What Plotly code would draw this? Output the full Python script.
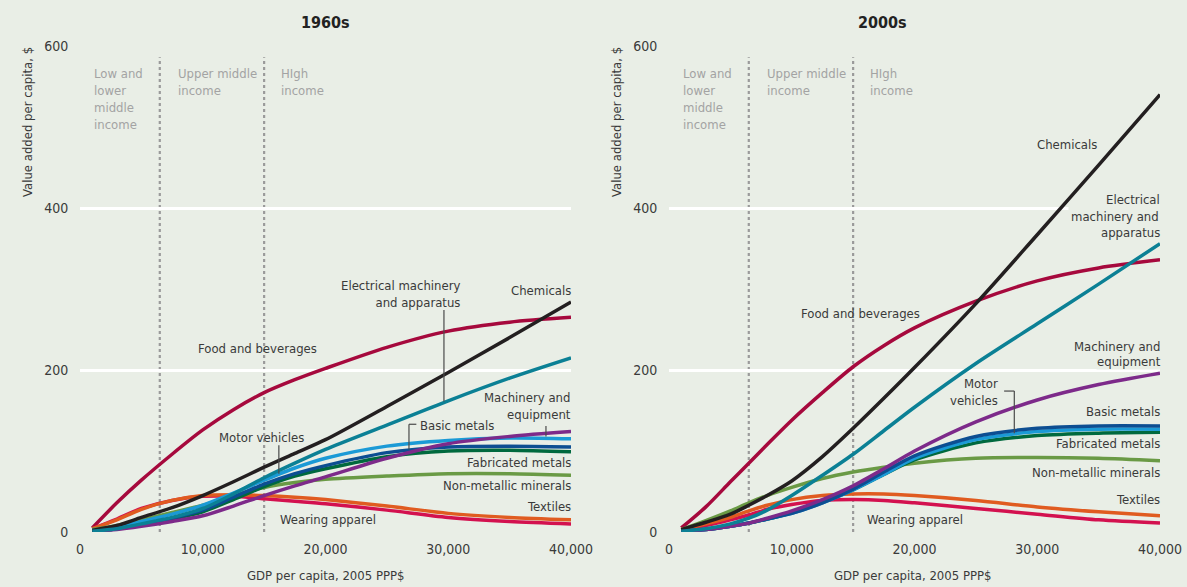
import plotly.graph_objects as go

# ---------------- DATA ----------------
gdp = [1000, 3000, 5000, 7500, 10000, 12500, 15000, 17500, 20000, 25000, 30000, 35000, 40000]
gdp_2000s = [1000, 3000, 5000, 6500, 8000, 10000, 12500, 15000, 17500, 20000, 25000, 30000, 35000, 40000]

sectors = ["Food and beverages", "Wearing apparel", "Textiles", "Non-metallic minerals",
           "Fabricated metals", "Motor vehicles", "Basic metals", "Machinery and equipment",
           "Chemicals", "Electrical machinery and apparatus"]

# 1960s values (value added per capita, $) at the gdp points
v1960_food = [5, 36, 64, 96, 126, 151, 172, 188, 202, 228, 248, 259, 265]
v1960_wearing = [4, 16, 29, 39, 44, 44, 41, 38, 35, 27, 18, 13, 10]
v1960_textiles = [4, 15, 28, 39, 45, 46, 45, 43, 40, 32, 23, 18, 15]
v1960_nonmetal = [3, 8, 15, 24, 33, 45, 55, 61, 65, 69, 72, 72, 70]
v1960_fabricated = [1, 4, 9, 16, 25, 40, 56, 69, 78, 93, 100, 101, 99]
v1960_motor = [2, 6, 13, 22, 33, 48, 64, 79, 91, 106, 113, 116, 115]
v1960_basic = [1, 4, 9, 17, 27, 43, 59, 72, 82, 98, 105, 106, 105]
v1960_machinery = [1, 3, 7, 13, 20, 32, 45, 57, 68, 91, 109, 118, 124]
v1960_chemicals = [2, 8, 18, 30, 45, 62, 80, 97, 114, 155, 197, 240, 284]
v1960_electrical = [1, 4, 10, 18, 29, 47, 67, 85, 102, 132, 162, 190, 215]

# 2000s values
v2000_food = [5, 31, 62, 85, 108, 138, 172, 204, 230, 252, 285, 310, 326, 336]
v2000_wearing = [3, 8, 15, 21, 28, 34, 39, 40, 39, 36, 29, 22, 15, 11]
v2000_textiles = [3, 10, 18, 26, 33, 40, 45, 47, 47, 45, 39, 31, 25, 20]
v2000_nonmetal = [3, 14, 26, 36, 45, 55, 66, 74, 80, 85, 91, 92, 91, 88]
v2000_fabricated = [1, 3, 7, 11, 16, 24, 37, 52, 71, 89, 110, 119, 122, 123]
v2000_motor = [1, 3, 7, 11, 16, 23, 36, 52, 71, 91, 114, 124, 127, 127]
v2000_basic = [1, 3, 7, 11, 16, 23, 36, 53, 74, 94, 118, 128, 131, 131]
v2000_machinery = [1, 3, 7, 11, 17, 26, 40, 57, 78, 100, 136, 163, 182, 196]
v2000_chemicals = [3, 12, 22, 33, 45, 63, 93, 128, 165, 203, 282, 367, 453, 540]
v2000_electrical = [1, 4, 10, 17, 27, 45, 70, 96, 125, 154, 208, 257, 306, 356]

income_thresholds = [6500, 15000]
y_ticks = [0, 200, 400, 600]
x_ticks = [0, 10000, 20000, 30000, 40000]
x_tick_labels = ["0", "10,000", "20,000", "30,000", "40,000"]
panel_titles = ["1960s", "2000s"]

# ---------------- STYLE ----------------
BG = "#e9eee6"
FONT = "DejaVu Sans Condensed, Liberation Sans Narrow, sans-serif"
TXT = "#3a3a3a"
colors = {
    "Food and beverages": "#a6093d",
    "Wearing apparel": "#d3114f",
    "Textiles": "#e05b20",
    "Non-metallic minerals": "#6a9a45",
    "Fabricated metals": "#00693e",
    "Motor vehicles": "#1b9ad6",
    "Basic metals": "#0d4e92",
    "Machinery and equipment": "#7d2a8a",
    "Chemicals": "#231f20",
    "Electrical machinery and apparatus": "#0b8095",
}

data1960 = [v1960_food, v1960_wearing, v1960_textiles, v1960_nonmetal, v1960_fabricated,
            v1960_motor, v1960_basic, v1960_machinery, v1960_chemicals, v1960_electrical]
data2000 = [v2000_food, v2000_wearing, v2000_textiles, v2000_nonmetal, v2000_fabricated,
            v2000_motor, v2000_basic, v2000_machinery, v2000_chemicals, v2000_electrical]

fig = go.Figure()
for name, ys in zip(sectors, data1960):
    fig.add_trace(go.Scatter(x=gdp, y=ys, mode="lines", name=name, xaxis="x", yaxis="y",
                             line=dict(color=colors[name], width=3.5, shape="spline", smoothing=0.8),
                             showlegend=False, hoverinfo="skip"))
for name, ys in zip(sectors, data2000):
    fig.add_trace(go.Scatter(x=gdp_2000s, y=ys, mode="lines", name=name, xaxis="x2", yaxis="y2",
                             line=dict(color=colors[name], width=3.5, shape="spline", smoothing=0.8),
                             showlegend=False, hoverinfo="skip"))

W, H = 1187, 587
ydom = [(H - 532) / H, (H - 46) / H]
xdom1 = [80 / W, 571 / W]
xdom2 = [669 / W, 1160 / W]

axis_x = dict(range=[0, 40000], tickvals=x_ticks, ticktext=x_tick_labels, showgrid=False,
              zeroline=False, showline=False, ticks="outside", ticklen=4, tickcolor="rgba(0,0,0,0)",
              tickfont=dict(family=FONT, size=14, color=TXT), fixedrange=True, automargin=False)
axis_y = dict(range=[0, 600], tickvals=y_ticks, showgrid=True, gridcolor="white", gridwidth=3,
              zeroline=False, showline=False, ticks="outside", ticklen=8, tickcolor="rgba(0,0,0,0)",
              tickfont=dict(family=FONT, size=14, color=TXT), fixedrange=True, automargin=False)

fig.update_layout(
    width=W, height=H, autosize=False, margin=dict(l=0, r=0, t=0, b=0, autoexpand=False),
    paper_bgcolor=BG, plot_bgcolor=BG,
    xaxis=dict(axis_x, domain=xdom1, anchor="y"),
    yaxis=dict(axis_y, domain=ydom, anchor="x"),
    xaxis2=dict(axis_x, domain=xdom2, anchor="y2"),
    yaxis2=dict(axis_y, domain=ydom, anchor="x2"),
    font=dict(family=FONT, color=TXT),
)

shapes = []
for xr, yr in [("x", "y"), ("x2", "y2")]:
    for t in income_thresholds:
        shapes.append(dict(type="line", xref=xr, yref=yr, x0=t, x1=t, y0=0, y1=586,
                           line=dict(color="#9a9a9a", width=2.2, dash="dot"), layer="below"))

def seg(xr, yr, x0, y0, x1, y1):
    shapes.append(dict(type="line", xref=xr, yref=yr, x0=x0, x1=x1, y0=y0, y1=y1,
                       line=dict(color="#4a4a4a", width=1.2)))

# pointers, 1960s
seg("x", "y", 29650, 274, 29650, 161)          # electrical
seg("x", "y", 37960, 131, 37960, 118)          # machinery
seg("x", "y", 26800, 133, 27400, 133)          # basic metals bracket
seg("x", "y", 26800, 133, 26800, 102)
seg("x", "y", 16200, 107, 16200, 72)           # motor vehicles
# pointers, 2000s
seg("x2", "y2", 27300, 174, 28130, 174)
seg("x2", "y2", 28130, 174, 28130, 122)

annotations = []
FS = 13

def ann(xr, yr, x, y, text, xanchor="center", align="center", color=TXT, size=FS, bg=None,
        yanchor="middle", xshift=0, pad=0):
    d = dict(xref=xr, yref=yr, x=x, y=y, text=text, showarrow=False, xanchor=xanchor,
             yanchor=yanchor, align=align, xshift=xshift, font=dict(family=FONT, size=size, color=color))
    if bg:
        d.update(bgcolor=bg, borderpad=pad)
    annotations.append(d)

GRAY = "#a3a3a3"
for xr, yr in [("x", "y"), ("x2", "y2")]:
    ann(xr, yr, 1000, 578, "Low and<br>lower<br>middle<br>income", "left", "left", GRAY, yanchor="top")
    ann(xr, yr, 7800, 578, "Upper middle<br>income", "left", "left", GRAY, yanchor="top")
    ann(xr, yr, 16200, 578, "HIgh<br>income", "left", "left", GRAY, yanchor="top")

R = dict(xanchor="right", align="right", xshift=2)
# 1960s labels
ann("x", "y", 40000, 298, "Chemicals", **R)
ann("x", "y", 31200, 294, "Electrical machinery<br>and apparatus", "right", "right")
ann("x", "y", 14500, 227, "Food and beverages")
ann("x", "y", 40000, 156, "Machinery and<br>equipment", **R)
ann("x", "y", 27500, 132, "Basic metals", "left", "left")
ann("x", "y", 14750, 117, "Motor vehicles")
ann("x", "y", 40000, 86, "Fabricated metals", **R)
ann("x", "y", 40000, 57, "Non-metallic minerals", **R)
ann("x", "y", 40000, 32, "Textiles", **R)
ann("x", "y", 16100, 15, "Wearing apparel", "left", "left")

# 2000s labels
ann("x2", "y2", 35030, 479, "Chemicals", "right", "right")
ann("x2", "y2", 40000, 410, "Electrical", bg=BG, pad=1, **R)
ann("x2", "y2", 40000, 390, "machinery and", bg=BG, pad=2, **R)
ann("x2", "y2", 40000, 370, "apparatus", **R)
ann("x2", "y2", 15560, 270, "Food and beverages")
ann("x2", "y2", 40000, 229.5, "Machinery and", **R)
ann("x2", "y2", 40000, 211, "equipment", bg=BG, pad=0, **R)
ann("x2", "y2", 27000, 173, "Motor<br>vehicles", "right", "right")
ann("x2", "y2", 40000, 149, "Basic metals", **R)
ann("x2", "y2", 40000, 109, "Fabricated metals", **R)
ann("x2", "y2", 40000, 73, "Non-metallic minerals", **R)
ann("x2", "y2", 40000, 40, "Textiles", **R)
ann("x2", "y2", 16000, 15, "Wearing apparel", "left", "left")

# panel titles
for t, px in zip(panel_titles, [325, 882]):
    annotations.append(dict(xref="paper", yref="paper", x=px / W, y=(H - 22) / H, text="<b>" + t + "</b>",
                            showarrow=False, xanchor="center", yanchor="middle",
                            font=dict(family=FONT, size=16, color="#222")))
# axis titles
for px in [28, 617]:
    annotations.append(dict(xref="paper", yref="paper", x=px / W, y=(H - 45) / H,
                            text="Value added per capita, $", textangle=-90, showarrow=False,
                            xanchor="center", yanchor="top", font=dict(family=FONT, size=13, color=TXT)))
for px in [326, 913]:
    annotations.append(dict(xref="paper", yref="paper", x=px / W, y=(H - 575) / H,
                            text="GDP per capita, 2005 PPP$", showarrow=False,
                            xanchor="center", yanchor="middle", font=dict(family=FONT, size=13, color=TXT)))

fig.update_layout(shapes=shapes, annotations=annotations)
fig.write_html("out.html", config={"responsive": False, "displayModeBar": False},
               post_script="document.body.style.margin='0';document.body.style.overflow='hidden';")
